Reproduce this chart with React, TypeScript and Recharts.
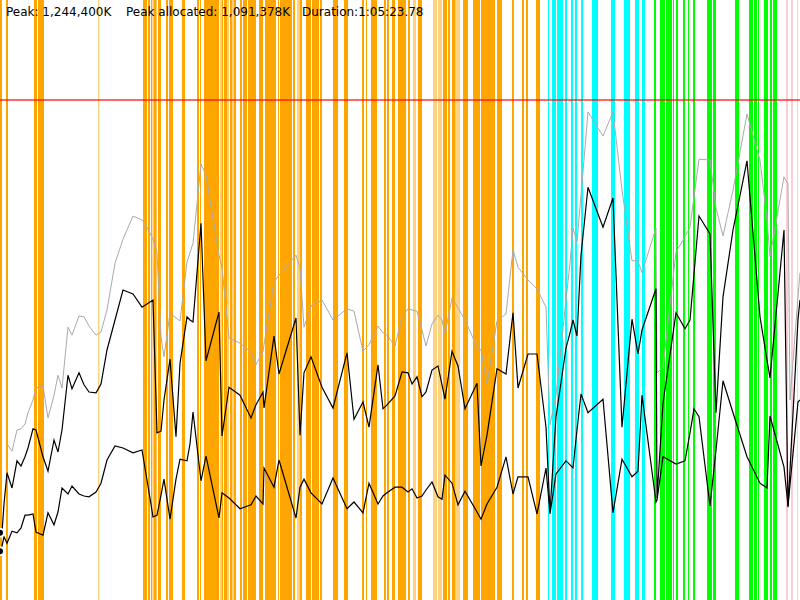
import { ComposedChart, Line, XAxis, YAxis, ReferenceArea, ReferenceLine } from "recharts";

// sample times (s) and heap sizes (MB)
const TIMES = [
  0, 10, 20, 35, 60, 85, 105, 125, 140, 165, 180, 215, 240, 270, 290, 310, 340, 360, 395, 420, 445,
  480, 505, 535, 575, 615, 665, 710, 735, 765, 785, 805, 820, 850, 880, 900, 935, 950, 965, 1005, 1030,
  1095, 1110, 1145, 1200, 1255, 1280, 1315, 1320, 1370, 1395, 1480, 1500, 1520, 1555, 1610, 1665, 1735, 1770, 1815, 1845,
  1890, 1915, 1935, 1975, 2010, 2040, 2060, 2085, 2110, 2130, 2160, 2190, 2210, 2225, 2260, 2290, 2325, 2385, 2405, 2435,
  2485, 2530, 2565, 2590, 2640, 2685, 2730, 2750, 2780, 2830, 2850, 2865, 2885, 2905, 2940, 3015, 3065, 3110, 3160, 3190,
  3210, 3280, 3285, 3315, 3380, 3425, 3450, 3470, 3495, 3550, 3580, 3615, 3665, 3735, 3800, 3835, 3850, 3920, 3940, 3950,
  3990, 4000,
];
const COMMITTED = [
  null, null, null, 390, 372, 425, 428, 440, 468, 500, 530, 535, 455, 512, 562, 530, 682, 662, 710, 708, 685,
  662, 670, 725, 842, 902, 960, 950, 932, 902, 868, 658, 608, 718, 705, 698, 845, 868, 892, 1090, 1062,
  862, 832, 655, 642, 620, 588, 622, 638, 795, 812, 862, 830, 682, 735, 750, 700, 728, 722, 622, 638,
  685, 668, 662, 635, 708, 728, 725, 722, 675, 635, 690, 712, 700, 665, 755, 730, 700, 632, 625, 540,
  698, 715, 875, 832, 800, 778, 732, 438, 512, 750, 842, 930, 895, 1012, 1220, 1160, 1220, 1025, 848, 848,
  818, 930, 568, 582, 870, 908, 932, 1008, 1102, 1100, 980, 910, 1025, 1215, 1100, 950, 858, 1058, 1040, 500,
  758, 818,
];
const ALLOCATED = [
  168, 168, 240, 318, 280, 348, 335, 358, 380, 428, 425, 358, 322, 400, 370, 425, 562, 528, 568, 538, 520,
  518, 540, 625, 700, 775, 765, 732, 740, 750, 418, 422, 500, 602, 408, 592, 708, 700, 695, 942, 598,
  720, 410, 532, 512, 455, 488, 520, 480, 660, 565, 705, 412, 568, 608, 532, 480, 618, 452, 495, 432,
  588, 478, 488, 510, 570, 568, 540, 558, 508, 520, 575, 585, 538, 502, 622, 585, 478, 542, 335, 412,
  578, 565, 718, 530, 615, 615, 432, 220, 458, 630, 668, 700, 660, 862, 1032, 932, 1005, 432, 702, 615,
  675, 778, 255, 492, 718, 678, 700, 815, 960, 915, 468, 758, 925, 1098, 708, 600, 555, 925, 232, 325,
  702, 750,
];
const AFTER_GC = [
  122, 135, 158, 142, 172, 168, 180, 212, 212, 215, 170, 162, 218, 188, 220, 280, 265, 285, 265, 260, 258,
  270, 292, 350, 385, 380, 368, 375, 300, 208, 212, 262, 302, 202, 302, 352, 348, 390, 470, 298, 360,
  205, 268, 255, 228, 238, 260, 240, 330, 282, 350, 205, 282, 302, 268, 240, 305, 228, 245, 218, 292,
  240, 260, 268, 282, 282, 270, 278, 255, 260, 275, 295, 258, 252, 312, 292, 238, 272, 220, 202, 240,
  282, 358, 265, 308, 308, 215, 330, 215, 315, 348, 338, 330, 425, 515, 468, 502, 218, 352, 308, 322,
  512, 245, 250, 358, 340, 348, 418, 478, 458, 235, 375, 548, 468, 358, 292, 280, 460, 332, 235, 288,
  495, 500,
];

const PEAK = 1250;

// GC events as [start, end] in seconds
const FULL_GC = [
  [0, 10], [30, 40], [170, 185], [190, 220], [715, 735], [740, 750], [755, 762], [767, 783], [790, 805], [830, 840],
  [845, 865], [910, 925], [985, 995], [1000, 1005], [1020, 1095], [1110, 1115], [1120, 1135], [1150, 1160], [1170, 1180],
  [1200, 1210], [1215, 1235], [1240, 1280], [1295, 1315], [1325, 1380], [1390, 1395], [1400, 1460], [1465, 1475],
  [1500, 1510], [1530, 1555], [1560, 1595], [1600, 1610], [1665, 1690], [1720, 1740], [1810, 1820], [1830, 1835],
  [1855, 1885], [1920, 1930], [1935, 1945], [1960, 1975], [1990, 2030], [2040, 2050], [2090, 2110], [2215, 2235],
  [2240, 2250], [2260, 2275], [2315, 2340], [2365, 2400], [2405, 2475], [2485, 2510], [2560, 2570], [2610, 2620],
  [2630, 2640], [2680, 2700],
];
const FULL_GC_LIGHT = [
  [490, 497], [1100, 1110], [1135, 1145], [1160, 1170], [1485, 1500], [2065, 2080], [2165, 2185], [2190, 2210], [2275, 2300],
];
const CMS = [
  [2740, 2745], [2760, 2780], [2785, 2815], [2825, 2835], [2855, 2865], [2875, 2885], [2905, 2915], [2960, 2990],
  [3055, 3075], [3120, 3150], [3175, 3195], [3210, 3225],
];
const G1 = [
  [3270, 3280], [3300, 3325], [3330, 3360], [3365, 3370], [3380, 3390], [3415, 3425], [3440, 3445], [3465, 3475],
  [3535, 3560], [3565, 3580], [3675, 3695], [3745, 3765], [3770, 3785], [3790, 3795], [3820, 3840], [3850, 3860],
  [3865, 3885],
];
const OTHER = [[3930, 3940], [3955, 3965], [3985, 3990]];

const rows = TIMES.map((t, i) => ({
  t,
  committed: COMMITTED[i],
  allocated: ALLOCATED[i],
  afterGc: AFTER_GC[i],
}));

function spans(list: number[][], fill: string, opacity: number, key: string) {
  return list.map(([a, b], i) => (
    <ReferenceArea
      key={key + i}
      x1={a}
      x2={b}
      fill={fill}
      fillOpacity={opacity}
      stroke="none"
    />
  ));
}

export default function App() {
  return (
    <div style={{ position: "absolute", left: 0, top: 0, width: 800, height: 600, background: "#fff" }}>
      <ComposedChart width={800} height={600} data={rows} margin={{ top: 0, right: 0, bottom: 0, left: 0 }}>
        <XAxis dataKey="t" type="number" domain={[0, 4000]} hide />
        <YAxis type="number" domain={[0, 1500]} hide />
        {spans(FULL_GC, "#FFA500", 1, "f")}
        {spans(FULL_GC_LIGHT, "#FFA500", 0.5, "fl")}
        {spans(CMS, "#00FFFF", 1, "c")}
        {spans(G1, "#00FF00", 1, "g")}
        {spans(OTHER, "#FFC0CB", 0.8, "o")}
        <Line dataKey="committed" stroke="#aaaaaa" strokeWidth={1} dot={false} isAnimationActive={false} />
        <Line dataKey="allocated" stroke="#000" strokeWidth={1.2} dot={false} isAnimationActive={false} />
        <Line dataKey="afterGc" stroke="#000" strokeWidth={1.2} dot={false} isAnimationActive={false} />
        <ReferenceLine y={PEAK} stroke="#ff0000" strokeOpacity={0.6} strokeWidth={2} />
      </ComposedChart>
      <div style={{ position: "absolute", left: 0, top: 0, font: "12px 'DejaVu Sans', sans-serif", color: "#000" }}>
        <span style={{ position: "absolute", left: 6, top: 5, whiteSpace: "nowrap" }}>Peak: 1,244,400K</span>
        <span style={{ position: "absolute", left: 126, top: 5, whiteSpace: "nowrap" }}>Peak allocated: 1,091,378K</span>
        <span style={{ position: "absolute", left: 302, top: 5, whiteSpace: "nowrap" }}>Duration:1:05:23.78</span>
      </div>
    </div>
  );
}
